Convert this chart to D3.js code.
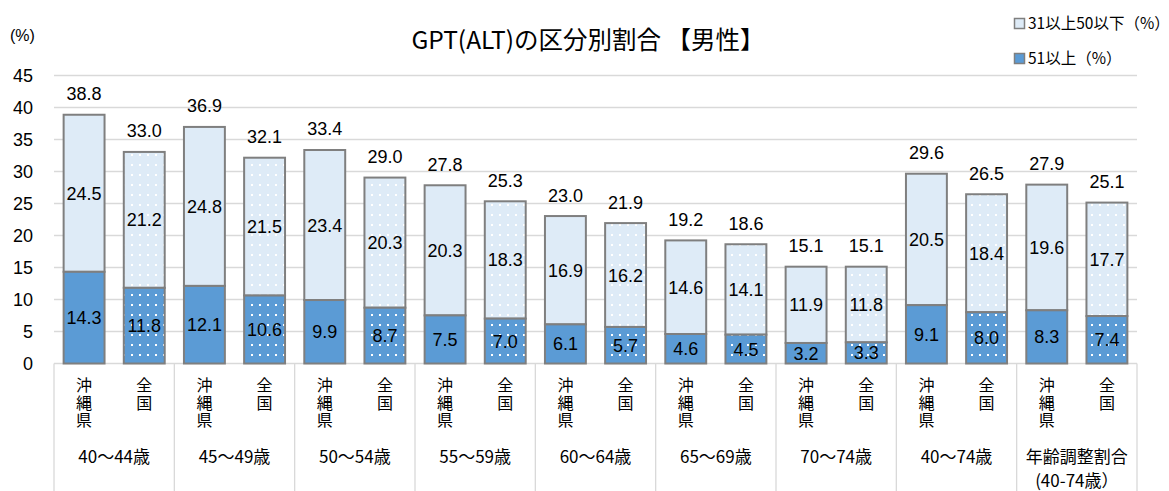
<!DOCTYPE html>
<html>
<head>
<meta charset="utf-8">
<script src="https://cdn.jsdelivr.net/npm/d3@7"></script>
<style>
  html, body { margin: 0; padding: 0; background: #fff; }
  svg { display: block; }
</style>
</head>
<body>
<svg id="chart" width="1169" height="491"></svg>
<script>
// Age groups (bottom labels); the last one spans two lines
const groups = ["40～44歳", "45～49歳", "50～54歳", "55～59歳", "60～64歳", "65～69歳", "70～74歳", "40～74歳", "年齢調整割合\n(40-74歳）"];
const regions = ["沖縄県", "全国"];

// 51以上 (%) — Okinawa and national, per age group
const high_okinawa = [14.3, 12.1, 9.9, 7.5, 6.1, 4.6, 3.2, 9.1, 8.3];
const high_national = [11.8, 10.6, 8.7, 7.0, 5.7, 4.5, 3.3, 8.0, 7.4];
// 31以上50以下 (%)
const mid_okinawa = [24.5, 24.8, 23.4, 20.3, 16.9, 14.6, 11.9, 20.5, 19.6];
const mid_national = [21.2, 21.5, 20.3, 18.3, 16.2, 14.1, 11.8, 18.4, 17.7];
// Totals printed above each bar
const total_okinawa = [38.8, 36.9, 33.4, 27.8, 23.0, 19.2, 15.1, 29.6, 27.9];
const total_national = [33.0, 32.1, 29.0, 25.3, 21.9, 18.6, 15.1, 26.5, 25.1];

const yTicks = [0, 5, 10, 15, 20, 25, 30, 35, 40, 45];
const seriesNames = ["31以上50以下（%）", "51以上（%）"];

const colHigh = "#5b9bd5";
const colMid = "#deebf7";
const colEdge = "#7f7f7f";
const colGrid = "#d9d9d9";
const numFont = "'Liberation Sans', Arial, sans-serif";
const jpFont = "'Noto Sans CJK JP', 'Noto Sans', sans-serif";

// Build one row per bar
const rows = [];
groups.forEach((g, i) => {
  rows.push({ key: i + "-0", group: i, region: 0, high: high_okinawa[i], mid: mid_okinawa[i], total: total_okinawa[i] });
  rows.push({ key: i + "-1", group: i, region: 1, high: high_national[i], mid: mid_national[i], total: total_national[i] });
});

const svg = d3.select("#chart");
const plotLeft = 54, plotRight = 1137, plotTop = 75, plotBottom = 363.5;

const y = d3.scaleLinear().domain([0, 45]).range([plotBottom, plotTop]);
const xGroup = d3.scaleBand().domain(d3.range(groups.length)).range([plotLeft, plotRight]).padding(0);
const x = d3.scaleBand().domain(rows.map(d => d.key)).range([plotLeft, plotRight])
  .paddingInner(0.32).paddingOuter(0.16);

// Dotted fills for national bars
const defs = svg.append("defs");
[["dotHigh", colHigh], ["dotMid", colMid]].forEach(([id, c]) => {
  const p = defs.append("pattern").attr("id", id).attr("patternUnits", "userSpaceOnUse")
    .attr("width", 8).attr("height", 10);
  p.append("rect").attr("width", 8).attr("height", 10).attr("fill", c);
  p.append("rect").attr("x", 3).attr("y", 4).attr("width", 2).attr("height", 2).attr("fill", "#fff");
});

// Gridlines
svg.append("g").selectAll("line").data(yTicks.filter(t => t > 0)).join("line")
  .attr("x1", plotLeft).attr("x2", plotRight)
  .attr("y1", d => Math.round(y(d)) + 0.5).attr("y2", d => Math.round(y(d)) + 0.5)
  .attr("stroke", colGrid).attr("stroke-width", 1.3);

// Y axis labels
const yAxis = d3.axisLeft(y).tickValues(yTicks).tickSize(0).tickPadding(0);
const gy = svg.append("g").attr("transform", "translate(33,0)").call(yAxis);
gy.select(".domain").remove();
gy.selectAll("text").attr("font-family", numFont).attr("font-size", 18).attr("fill", "#000").attr("dy", "0.35em");

svg.append("text").attr("x", 10).attr("y", 41).text("(%)")
  .attr("font-family", numFont).attr("font-size", 16).attr("fill", "#000");

// Category axis frame: baseline and group separators
svg.append("line").attr("x1", plotLeft).attr("x2", plotRight).attr("y1", plotBottom).attr("y2", plotBottom)
  .attr("stroke", colGrid).attr("stroke-width", 1.3);
svg.append("g").selectAll("line").data(d3.range(groups.length + 1)).join("line")
  .attr("x1", d => xGroup.step() * d + plotLeft).attr("x2", d => xGroup.step() * d + plotLeft)
  .attr("y1", plotBottom).attr("y2", 491)
  .attr("stroke", colGrid).attr("stroke-width", 1.3);

// Bars
const bars = svg.append("g").selectAll("g").data(rows).join("g");
bars.append("rect")
  .attr("x", d => x(d.key)).attr("width", x.bandwidth())
  .attr("y", d => y(d.high + d.mid)).attr("height", d => y(d.high) - y(d.high + d.mid))
  .attr("fill", d => d.region ? "url(#dotMid)" : colMid)
  .attr("stroke", colEdge).attr("stroke-width", 2);
bars.append("rect")
  .attr("x", d => x(d.key)).attr("width", x.bandwidth())
  .attr("y", d => y(d.high)).attr("height", d => y(0) - y(d.high))
  .attr("fill", d => d.region ? "url(#dotHigh)" : colHigh)
  .attr("stroke", colEdge).attr("stroke-width", 2);

// Value labels
const cx = d => x(d.key) + x.bandwidth() / 2;
bars.append("text").attr("x", cx).attr("y", d => y(d.high / 2)).attr("dy", "0.36em")
  .text(d => d.high.toFixed(1));
bars.append("text").attr("x", cx).attr("y", d => y(d.high + d.mid / 2)).attr("dy", "0.36em")
  .text(d => d.mid.toFixed(1));
bars.append("text").attr("x", cx).attr("y", d => y(d.high + d.mid) - 21).attr("dy", "0.36em")
  .text(d => d.total.toFixed(1));
bars.selectAll("text").attr("text-anchor", "middle").attr("font-family", numFont)
  .attr("font-size", 18).attr("fill", "#000");

// Region names, set in vertical writing mode
svg.append("g").selectAll("text").data(rows).join("text")
  .attr("font-family", jpFont).attr("font-size", 16).attr("fill", "#000")
  .style("writing-mode", "vertical-rl")
  .style("letter-spacing", "1.5px")
  .attr("text-anchor", "start")
  .attr("x", d => cx(d))
  .attr("y", 377)
  .text(d => regions[d.region]);

// Age group names
const groupLabels = svg.append("g").selectAll("text").data(groups).join("text")
  .attr("font-family", jpFont).attr("font-size", 17).attr("fill", "#000")
  .attr("text-anchor", "middle");
groupLabels.selectAll("tspan").data((g, i) => g.split("\n").map(s => ({ s, i })))
  .join("tspan")
  .attr("x", o => xGroup(o.i) + xGroup.bandwidth() / 2)
  .attr("y", (o, j) => 463 + j * 24)
  .text(o => o.s);

// Title
svg.append("text").attr("x", 588).attr("y", 49).attr("text-anchor", "middle")
  .attr("font-family", jpFont).attr("font-size", 24.5).attr("fill", "#000")
  .text("GPT(ALT)の区分別割合 【男性】");

// Legend
const legend = svg.append("g").selectAll("g").data(seriesNames).join("g")
  .attr("transform", (d, i) => `translate(1014,${18 + i * 35})`);
legend.append("rect").attr("x", 0.5).attr("y", 0.5).attr("width", 10).attr("height", 10)
  .attr("fill", (d, i) => i ? colHigh : colMid).attr("stroke", colEdge).attr("stroke-width", 1.5);
legend.append("text").attr("x", 14).attr("y", 5.5).attr("dy", "0.36em")
  .attr("font-family", jpFont).attr("font-size", 15.5).attr("fill", "#000")
  .text(d => d);
</script>
</body>
</html>
